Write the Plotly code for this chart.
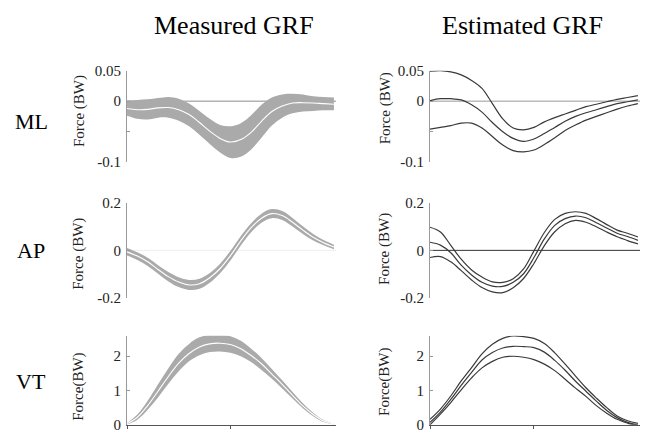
import plotly.graph_objects as go
from plotly.subplots import make_subplots

# ---------------- data (% stance, 0..100 step 5) ----------------
stance = list(range(0, 101, 5))

# Measured ML (BW): mean and band limits
ml_meas_mean = [-0.012, -0.014, -0.0135, -0.011, -0.0105, -0.014, -0.022, -0.035, -0.049, -0.061, -0.067,
                -0.063, -0.051, -0.033, -0.017, -0.008, -0.003, -0.0025, -0.003, -0.004, -0.005]
ml_meas_upper = [0.001, 0.002, 0.003, 0.005, 0.007, 0.004, -0.004, -0.016, -0.029, -0.039, -0.041,
                 -0.036, -0.023, -0.006, 0.006, 0.011, 0.012, 0.011, 0.008, 0.007, 0.006]
ml_meas_lower = [-0.024, -0.029, -0.030, -0.027, -0.027, -0.032, -0.041, -0.055, -0.070, -0.084, -0.093,
                 -0.091, -0.079, -0.060, -0.040, -0.027, -0.020, -0.017, -0.016, -0.015, -0.015]

# Estimated ML (BW): three curves
ml_est_top = [0.049, 0.050, 0.048, 0.043, 0.034, 0.021, -0.004, -0.029, -0.044, -0.047, -0.043,
              -0.034, -0.027, -0.021, -0.015, -0.009, -0.005, -0.001, 0.003, 0.006, 0.009]
ml_est_mid = [0.001, 0.004, 0.004, 0.002, -0.006, -0.018, -0.035, -0.050, -0.061, -0.066, -0.062,
              -0.053, -0.043, -0.033, -0.025, -0.019, -0.014, -0.009, -0.004, -0.001, 0.002]
ml_est_bot = [-0.046, -0.043, -0.040, -0.036, -0.036, -0.044, -0.058, -0.072, -0.081, -0.083, -0.080,
              -0.071, -0.060, -0.048, -0.039, -0.031, -0.025, -0.019, -0.013, -0.008, -0.004]

# Measured AP (BW)
ap_meas_mean = [-0.006, -0.024, -0.048, -0.080, -0.110, -0.133, -0.145, -0.140, -0.115, -0.076, -0.022,
                0.040, 0.095, 0.135, 0.154, 0.146, 0.118, 0.085, 0.055, 0.032, 0.014]
ap_meas_upper = [0.010, -0.008, -0.031, -0.062, -0.091, -0.113, -0.124, -0.119, -0.095, -0.056, -0.002,
                 0.060, 0.114, 0.154, 0.173, 0.165, 0.136, 0.101, 0.069, 0.043, 0.024]
ap_meas_lower = [-0.021, -0.040, -0.065, -0.098, -0.130, -0.154, -0.166, -0.161, -0.136, -0.096, -0.042,
                 0.020, 0.076, 0.116, 0.135, 0.127, 0.100, 0.069, 0.041, 0.021, 0.005]

# Estimated AP (BW)
ap_est_top = [0.097, 0.077, 0.021, -0.037, -0.082, -0.112, -0.132, -0.134, -0.119, -0.078, -0.002,
              0.075, 0.130, 0.155, 0.162, 0.155, 0.133, 0.108, 0.085, 0.072, 0.056]
ap_est_mid = [0.034, 0.022, -0.010, -0.062, -0.103, -0.134, -0.150, -0.151, -0.134, -0.098, -0.030,
              0.048, 0.105, 0.133, 0.144, 0.137, 0.116, 0.094, 0.072, 0.058, 0.042]
ap_est_bot = [-0.030, -0.026, -0.048, -0.085, -0.124, -0.156, -0.174, -0.177, -0.157, -0.118, -0.055,
              0.020, 0.078, 0.112, 0.126, 0.118, 0.099, 0.077, 0.057, 0.041, 0.027]

# Measured VT (BW)
vt_meas_mean = [0.03, 0.22, 0.56, 0.98, 1.41, 1.80, 2.08, 2.27, 2.36, 2.38, 2.34,
                2.22, 2.02, 1.78, 1.48, 1.18, 0.86, 0.55, 0.30, 0.11, 0.02]
vt_meas_upper = [0.05, 0.30, 0.70, 1.18, 1.65, 2.07, 2.36, 2.55, 2.62, 2.63, 2.58,
                 2.45, 2.22, 1.95, 1.63, 1.30, 0.96, 0.63, 0.35, 0.14, 0.03]
vt_meas_lower = [0.01, 0.15, 0.44, 0.80, 1.20, 1.56, 1.85, 2.03, 2.12, 2.14, 2.10,
                 2.00, 1.83, 1.60, 1.34, 1.06, 0.77, 0.48, 0.25, 0.08, 0.01]

# Estimated VT (BW)
vt_est_top = [0.16, 0.46, 0.84, 1.28, 1.67, 2.07, 2.35, 2.52, 2.59, 2.57, 2.52,
              2.37, 2.10, 1.77, 1.42, 1.08, 0.78, 0.50, 0.26, 0.12, 0.04]
vt_est_mid = [0.07, 0.37, 0.74, 1.15, 1.53, 1.89, 2.11, 2.24, 2.29, 2.28, 2.25,
              2.12, 1.88, 1.59, 1.27, 0.98, 0.69, 0.42, 0.21, 0.07, 0.00]
vt_est_bot = [0.00, 0.31, 0.65, 1.02, 1.37, 1.66, 1.85, 1.97, 2.00, 1.97, 1.90,
              1.77, 1.58, 1.33, 1.07, 0.83, 0.56, 0.34, 0.16, 0.05, -0.03]

col_titles = ["Measured GRF", "Estimated GRF"]
row_labels = ["ML", "AP", "VT"]
ytitles = ["Force (BW)", "Force (BW)", "Force(BW)"]
ranges = [[-0.1, 0.05], [-0.2, 0.2], [0, 2.6]]
tickvals = [[-0.1, -0.05, 0, 0.05], [-0.2, 0, 0.2], [0, 1, 2]]
ticktext = [["-0.1", "", "0", "0.05"], ["-0.2", "0", "0.2"], ["0", "1", "2"]]

measured = [(ml_meas_mean, ml_meas_upper, ml_meas_lower),
            (ap_meas_mean, ap_meas_upper, ap_meas_lower),
            (vt_meas_mean, vt_meas_upper, vt_meas_lower)]
estimated = [(ml_est_top, ml_est_mid, ml_est_bot),
             (ap_est_top, ap_est_mid, ap_est_bot),
             (vt_est_top, vt_est_mid, vt_est_bot)]

FONT = "Liberation Serif, Times New Roman, serif"
W, H = 651, 441
BAND = "#aaaaaa"
LINE = "#3a3a3a"

fig = make_subplots(rows=3, cols=2)

for r in range(3):
    mean, up, lo = measured[r]
    fig.add_trace(go.Scatter(x=stance, y=up, mode="lines", line=dict(width=0, shape="spline"),
                             hoverinfo="skip", showlegend=False), row=r + 1, col=1)
    fig.add_trace(go.Scatter(x=stance, y=lo, mode="lines", line=dict(width=0, shape="spline"),
                             fill="tonexty", fillcolor=BAND, hoverinfo="skip", showlegend=False),
                  row=r + 1, col=1)
    fig.add_trace(go.Scatter(x=stance, y=mean, mode="lines",
                             line=dict(color="white", width=1.1, shape="spline"),
                             showlegend=False), row=r + 1, col=1)
    for series in estimated[r]:
        fig.add_trace(go.Scatter(x=stance, y=series, mode="lines",
                                 line=dict(color=LINE, width=1.2, shape="spline"),
                                 showlegend=False), row=r + 1, col=2)

# pixel layout of panels
x_dom = [[127, 336], [430, 640]]
y_dom = [[65, 160], [202, 301], [340, 432.5]]

def px_x(p):
    return p / W

def px_y(p):
    return 1 - p / H

for r in range(3):
    for c in range(2):
        fig.update_xaxes(row=r + 1, col=c + 1,
                         domain=[px_x(x_dom[c][0]), px_x(x_dom[c][1])],
                         range=[0, 101], showgrid=False, zeroline=False,
                         showline=(r == 2), linecolor="#555555", linewidth=1,
                         ticks="outside" if r == 2 else "", ticklen=3, tickcolor="#555555",
                         tickvals=[0, 50] if r == 2 else [], showticklabels=False)
        fig.update_yaxes(row=r + 1, col=c + 1,
                         domain=[px_y(y_dom[r][1]), px_y(y_dom[r][0])],
                         range=ranges[r], showgrid=False, zeroline=False,
                         showline=True, linecolor="#9a9a9a", linewidth=1,
                         ticks="inside", ticklen=3, tickcolor="#9a9a9a",
                         tickvals=tickvals[r], ticktext=ticktext[r],
                         tickfont=dict(family=FONT, size=15, color="#222222"),
                         ticklabelstandoff=2)

# zero reference lines (ML and AP panels)
zero_styles = {(0, 0): "#8c8c8c", (0, 1): "#9a9a9a", (1, 0): "#eeeeee", (1, 1): "#333333"}
for (r, c), colr in zero_styles.items():
    idx = r * 2 + c + 1
    suf = "" if idx == 1 else str(idx)
    fig.add_shape(type="line", xref=f"x{suf} domain", yref=f"y{suf}",
                  x0=0, x1=1, y0=0, y1=0, line=dict(color=colr, width=1), layer="below")

annotations = []
col_cx = [234, 522]
for c in range(2):
    annotations.append(dict(text=col_titles[c], x=px_x(col_cx[c]), y=px_y(18), xref="paper", yref="paper",
                            showarrow=False, xanchor="center", yanchor="middle",
                            font=dict(family=FONT, size=26, color="black")))
row_cy = [118, 252, 388]
for r in range(3):
    annotations.append(dict(text=row_labels[r], x=px_x(31), y=px_y(row_cy[r]), xref="paper", yref="paper",
                            showarrow=False, xanchor="center", yanchor="middle",
                            font=dict(family=FONT, size=22, color="black")))
ylab_cy = [[107, 255, 393], [104, 250, 388]]
ylab_cx = [79, 385]
for c in range(2):
    for r in range(3):
        annotations.append(dict(text=ytitles[r], x=px_x(ylab_cx[c]), y=px_y(ylab_cy[c][r]),
                                xref="paper", yref="paper", textangle=-90,
                                showarrow=False, xanchor="center", yanchor="middle",
                                font=dict(family=FONT, size=15, color="#222222")))

fig.update_layout(width=W, height=H, margin=dict(l=0, r=0, t=0, b=0),
                  paper_bgcolor="white", plot_bgcolor="white",
                  annotations=annotations, showlegend=False)

fig.write_html("out.html", config={"displayModeBar": False},
               post_script="document.body.style.margin='0';document.body.style.overflow='hidden';")
